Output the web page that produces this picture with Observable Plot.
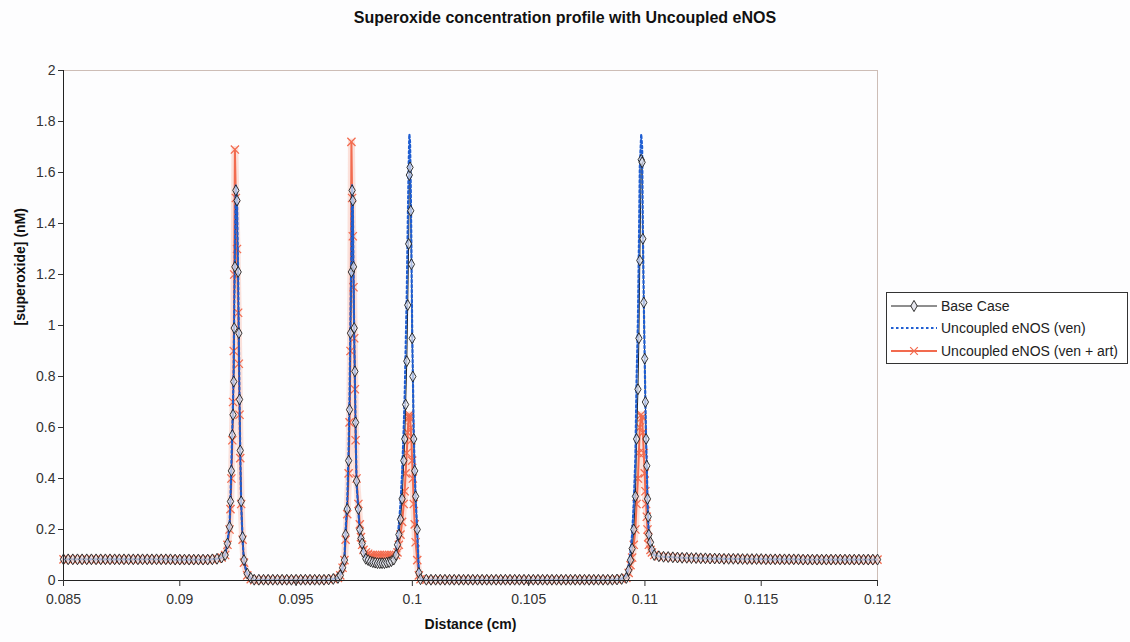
<!DOCTYPE html>
<html><head><meta charset="utf-8">
<script src="https://cdn.jsdelivr.net/npm/d3@7"></script>
<script src="https://cdn.jsdelivr.net/npm/@observablehq/plot@0.6"></script>
<style>
body{margin:0;background:#fdfdfe;font-family:"Liberation Sans",Arial,sans-serif;}
#wrap{position:relative;width:1130px;height:642px;}
#title{height:40px;line-height:36px;text-align:center;font-weight:bold;font-size:16px;color:#111;}
#legend{position:absolute;left:886px;top:292px;width:240px;height:70px;border:1px solid #333;background:#fff;}
</style></head><body>
<div id="wrap"><div id="title">Superoxide concentration profile with Uncoupled eNOS</div><div id="chart"></div><div id="legend"></div></div>
<script>
// ---- data ----
const seriesNames = ["Base Case", "Uncoupled eNOS (ven)", "Uncoupled eNOS (ven + art)"];
const xTicks = [0.085, 0.09, 0.095, 0.1, 0.105, 0.11, 0.115, 0.12];
const xTickLabels = ["0.085", "0.09", "0.095", "0.1", "0.105", "0.11", "0.115", "0.12"];
const yTicks = [0, 0.2, 0.4, 0.6, 0.8, 1, 1.2, 1.4, 1.6, 1.8, 2];
const yTickLabels = ["0", "0.2", "0.4", "0.6", "0.8", "1", "1.2", "1.4", "1.6", "1.8", "2"];

// flat region left of first peak (shared by all series)
const leftX = [0.0850,0.0852,0.0854,0.0856,0.0858,0.0860,0.0862,0.0864,0.0866,0.0868,0.0870,0.0872,0.0874,0.0876,0.0878,0.0880,0.0882,0.0884,0.0886,0.0888,0.0890,0.0892,0.0894,0.0896,0.0898,0.0900,0.0902,0.0904,0.0906,0.0908,0.0910,0.0912,0.0914,0.0916,0.0918];
const leftY = [0.083,0.083,0.083,0.083,0.083,0.083,0.083,0.083,0.083,0.083,0.083,0.083,0.083,0.083,0.083,0.083,0.083,0.083,0.083,0.083,0.083,0.083,0.083,0.083,0.082,0.082,0.082,0.082,0.082,0.082,0.082,0.082,0.083,0.085,0.090];

// peak 1
const peak1X = [0.09195,0.09205,0.09214,0.09218,0.09222,0.09226,0.09229,0.09232,0.09234,0.09237,0.09241,0.09246,0.09251,0.09254,0.09257,0.09260,0.09264,0.09270,0.09276,0.09290,0.09305,0.09320];
const peak1Base = [0.10,0.145,0.21,0.31,0.43,0.57,0.65,0.78,0.99,1.23,1.53,1.49,1.21,0.97,0.71,0.51,0.31,0.17,0.08,0.027,0.01,0.003];
const peak1Ven = [0.10,0.15,0.22,0.33,0.46,0.60,0.70,0.84,1.05,1.30,1.55,1.50,1.20,0.95,0.70,0.50,0.30,0.16,0.07,0.025,0.008,0.002];
const peak1Art = [0.10,0.14,0.20,0.28,0.40,0.55,0.70,0.90,1.20,1.69,1.50,1.30,1.05,0.85,0.65,0.48,0.30,0.16,0.07,0.02,0.005,0.001];

// gap between peak 1 and peak 2 (shared)
const gap1X = [0.0934,0.0936,0.0938,0.0940,0.0942,0.0944,0.0946,0.0948,0.0950,0.0952,0.0954,0.0956,0.0958,0.0960,0.0962,0.0964,0.0966,0.0968];
const gap1Y = [0.003,0.003,0.003,0.003,0.003,0.003,0.003,0.003,0.003,0.003,0.003,0.003,0.003,0.003,0.003,0.004,0.006,0.010];

// peak 2
const peak2X = [0.09690,0.09700,0.09708,0.09713,0.09720,0.09726,0.09730,0.09734,0.09738,0.09741,0.09744,0.09747,0.09750,0.09753,0.09756,0.09760,0.09768,0.09774,0.09779,0.09784,0.09790];
const peak2Base = [0.02,0.05,0.08,0.18,0.28,0.47,0.67,0.97,1.21,1.53,1.49,1.23,0.99,0.82,0.62,0.39,0.28,0.20,0.165,0.145,0.11];
const peak2Ven = [0.02,0.05,0.09,0.20,0.31,0.52,0.73,1.04,1.28,1.55,1.48,1.20,0.96,0.79,0.60,0.38,0.27,0.19,0.16,0.14,0.11];
const peak2Art = [0.02,0.05,0.08,0.16,0.26,0.42,0.62,0.90,1.72,1.50,1.35,1.15,0.95,0.75,0.55,0.40,0.30,0.22,0.17,0.14,0.12];

// plateau between peak 2 and peak 3
const plateauX = [0.0980,0.0981,0.0982,0.0983,0.0984,0.0985,0.0986,0.0987,0.0988,0.0989,0.0990,0.0991,0.0992];
const plateauBase = [0.085,0.080,0.075,0.072,0.070,0.068,0.068,0.068,0.068,0.070,0.072,0.076,0.082];
const plateauVen = [0.085,0.080,0.075,0.072,0.070,0.068,0.068,0.068,0.069,0.071,0.074,0.079,0.086];
const plateauArt = [0.110,0.105,0.100,0.100,0.100,0.100,0.100,0.100,0.100,0.100,0.100,0.100,0.100];

// peak 3
const peak3X = [0.09930,0.09936,0.09942,0.09949,0.09956,0.09963,0.09967,0.09971,0.09976,0.09980,0.09984,0.09987,0.09990,0.09993,0.09996,0.09999,0.10002,0.10006,0.10010,0.10014,0.10021,0.10028,0.10035];
const peak3Base = [0.10,0.14,0.18,0.24,0.32,0.47,0.555,0.69,0.86,1.08,1.32,1.59,1.62,1.45,1.24,0.95,0.80,0.555,0.43,0.33,0.20,0.03,0.005];
const peak3Ven = [0.11,0.16,0.22,0.30,0.42,0.60,0.72,0.90,1.12,1.38,1.62,1.75,1.72,1.55,1.30,1.00,0.82,0.57,0.43,0.32,0.19,0.03,0.005];
const peak3Art = [0.10,0.11,0.14,0.18,0.23,0.30,0.35,0.42,0.50,0.58,0.64,0.65,0.64,0.60,0.55,0.47,0.40,0.30,0.22,0.15,0.08,0.02,0.005];

// gap between peak 3 and peak 4 (shared)
const gap2X = [0.1006,0.1008,0.1010,0.1012,0.1014,0.1016,0.1018,0.1020,0.1022,0.1024,0.1026,0.1028,0.1030,0.1032,0.1034,0.1036,0.1038,0.1040,0.1042,0.1044,0.1046,0.1048,0.1050,0.1052,0.1054,0.1056,0.1058,0.1060,0.1062,0.1064,0.1066,0.1068,0.1070,0.1072,0.1074,0.1076,0.1078,0.1080,0.1082,0.1084,0.1086,0.1088,0.1090];
const gap2Y = [0.003,0.003,0.003,0.003,0.003,0.003,0.003,0.003,0.003,0.003,0.003,0.003,0.003,0.003,0.003,0.003,0.003,0.003,0.003,0.003,0.003,0.003,0.003,0.003,0.003,0.003,0.003,0.003,0.003,0.003,0.003,0.003,0.003,0.003,0.003,0.003,0.003,0.003,0.003,0.003,0.003,0.004,0.006];

// peak 4
const peak4X = [0.10920,0.10930,0.10938,0.10945,0.10952,0.10959,0.10964,0.10970,0.10974,0.10978,0.10984,0.10988,0.10991,0.10995,0.10999,0.11002,0.11005,0.11008,0.11011,0.11014,0.11017,0.11024,0.11030,0.11040];
const peak4Base = [0.01,0.04,0.08,0.125,0.20,0.33,0.555,0.75,0.95,1.255,1.65,1.64,1.34,1.09,0.87,0.70,0.555,0.45,0.32,0.25,0.18,0.15,0.12,0.10];
const peak4Ven = [0.02,0.06,0.11,0.18,0.30,0.48,0.78,1.02,1.30,1.62,1.75,1.70,1.38,1.10,0.87,0.70,0.55,0.44,0.31,0.24,0.17,0.14,0.12,0.10];
const peak4Art = [0.01,0.03,0.06,0.09,0.14,0.20,0.30,0.40,0.50,0.60,0.65,0.64,0.58,0.50,0.42,0.35,0.30,0.25,0.20,0.17,0.14,0.12,0.11,0.10];

// flat region right of last peak (shared)
const rightX = [0.1106,0.1108,0.1110,0.1112,0.1114,0.1116,0.1118,0.1120,0.1122,0.1124,0.1126,0.1128,0.1130,0.1132,0.1134,0.1136,0.1138,0.1140,0.1142,0.1144,0.1146,0.1148,0.1150,0.1152,0.1154,0.1156,0.1158,0.1160,0.1162,0.1164,0.1166,0.1168,0.1170,0.1172,0.1174,0.1176,0.1178,0.1180,0.1182,0.1184,0.1186,0.1188,0.1190,0.1192,0.1194,0.1196,0.1198,0.1200];
const rightY = [0.095,0.093,0.092,0.091,0.090,0.089,0.089,0.088,0.088,0.087,0.087,0.086,0.086,0.086,0.085,0.085,0.085,0.085,0.084,0.084,0.084,0.084,0.084,0.083,0.083,0.083,0.083,0.083,0.083,0.083,0.083,0.082,0.082,0.082,0.082,0.082,0.082,0.082,0.082,0.082,0.082,0.082,0.082,0.082,0.082,0.082,0.082,0.082];

// ---- table built from the arrays ----
const segments = [
  [leftX, leftY, leftY, leftY],
  [peak1X, peak1Base, peak1Ven, peak1Art],
  [gap1X, gap1Y, gap1Y, gap1Y],
  [peak2X, peak2Base, peak2Ven, peak2Art],
  [plateauX, plateauBase, plateauVen, plateauArt],
  [peak3X, peak3Base, peak3Ven, peak3Art],
  [gap2X, gap2Y, gap2Y, gap2Y],
  [peak4X, peak4Base, peak4Ven, peak4Art],
  [rightX, rightY, rightY, rightY]
];
const rows = [];
segments.forEach(([xs, b, v, a]) => xs.forEach((x, i) => rows.push({x, base: b[i], ven: v[i], art: a[i]})));

const BLACK = "#1e1e1e", BLUE = "#1f5ed2", ORANGE = "#f26b4f";

const chart = Plot.plot({
  width: 1130, height: 602,
  marginTop: 30, marginBottom: 62, marginLeft: 63, marginRight: 253,
  style: {background: "transparent", fontFamily: "Liberation Sans, Arial, sans-serif"},
  x: {domain: [0.085, 0.12]},
  y: {domain: [0, 2]},
  marks: [
    Plot.frame({stroke: "#cdbdb6"}),
    Plot.line(rows, {x: "x", y: "art", stroke: "#f7a18c", strokeWidth: 7, strokeOpacity: 0.3}),
    Plot.line(rows, {x: "x", y: "art", stroke: ORANGE, strokeWidth: 2}),
    Plot.dot(rows, {x: "x", y: "art", symbol: "times", stroke: ORANGE, r: 3.8, strokeWidth: 1.3}),
    Plot.line(rows, {x: "x", y: "base", stroke: BLACK, strokeWidth: 1}),
    Plot.line(rows, {x: "x", y: "ven", stroke: BLUE, strokeWidth: 2.2, strokeDasharray: "2.5,2.5"}),
    Plot.dot(rows, {x: "x", y: "base", symbol: "diamond", fill: "#e8e8ef", fillOpacity: 0.7, stroke: BLACK, r: 3.3, strokeWidth: 0.9}),
    Plot.ruleY([0], {stroke: "#222"}),
    Plot.ruleX([0.085], {stroke: "#222"}),
    Plot.axisY({ticks: yTicks, tickFormat: d => yTickLabels[yTicks.indexOf(d)], tickSize: 5, tickPadding: 3, fontSize: 14, color: "#333", label: null}),
    Plot.axisX({ticks: xTicks, tickFormat: d => xTickLabels[xTicks.indexOf(d)], tickSize: 6, tickPadding: 8, fontSize: 14, color: "#333", label: null}),
    Plot.text(["[superoxide] (nM)"], {text: d => d, frameAnchor: "left", rotate: -90, dx: -43, fontSize: 14, fontWeight: "bold", fill: "#111"}),
    Plot.text(["Distance (cm)"], {text: d => d, frameAnchor: "bottom", dy: 48, fontSize: 14, fontWeight: "bold", fill: "#111"})
  ]
});
document.getElementById("chart").appendChild(chart);

// ---- legend ----
const lg = d3.select("#legend").append("svg").attr("width", 240).attr("height", 70);
const rowsY = [13, 35, 58];
const styles = [
  {stroke: BLACK, w: 1, dash: null, marker: "diamond"},
  {stroke: BLUE, w: 2.2, dash: "2.5,2.5", marker: null},
  {stroke: ORANGE, w: 2, dash: null, marker: "times"}
];
seriesNames.forEach((name, i) => {
  const s = styles[i], y = rowsY[i];
  const g = lg.append("g");
  g.append("line").attr("x1", 4).attr("x2", 50).attr("y1", y).attr("y2", y)
    .attr("stroke", s.stroke).attr("stroke-width", s.w).attr("stroke-dasharray", s.dash);
  if (s.marker === "diamond") {
    g.append("path").attr("d", d3.symbol(d3.symbolDiamond, 36)()).attr("transform", `translate(27,${y})`)
      .attr("fill", "#e8e8ef").attr("stroke", BLACK).attr("stroke-width", 0.9);
  } else if (s.marker === "times") {
    g.append("path").attr("d", d3.symbol(d3.symbolTimes, 40)()).attr("transform", `translate(27,${y})`)
      .attr("fill", "none").attr("stroke", ORANGE).attr("stroke-width", 1.2);
  }
  g.append("text").attr("x", 54).attr("y", y).attr("dy", "0.35em")
    .attr("font-size", 14).attr("fill", "#222").attr("font-family", "Liberation Sans, Arial, sans-serif").text(name);
});
</script>
</body></html>
